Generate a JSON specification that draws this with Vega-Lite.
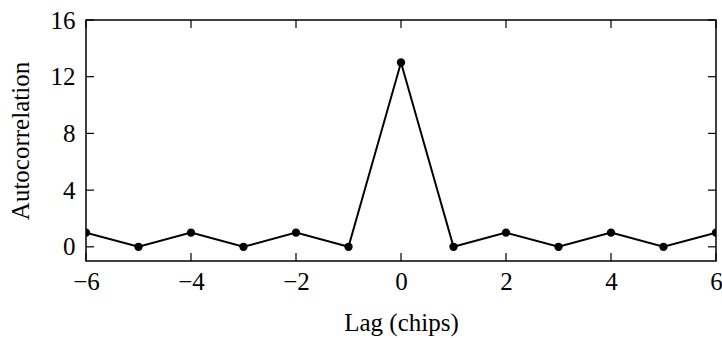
{
  "$schema": "https://vega.github.io/schema/vega-lite/v6.json",
  "width": 630,
  "height": 241,
  "autosize": "none",
  "padding": {"left": 86, "top": 20, "right": 6, "bottom": 77},
  "background": "white",
  "config": {
    "view": {"stroke": "black", "strokeWidth": 1.5},
    "font": "Liberation Serif",
    "axis": {
      "domain": false,
      "ticks": false,
      "grid": false,
      "labelFont": "Liberation Serif",
      "titleFont": "Liberation Serif",
      "labelFontSize": 25,
      "titleFontSize": 25,
      "titleFontWeight": "normal",
      "labelColor": "black",
      "titleColor": "black"
    }
  },
  "datasets": {
    "acf": [
      {"lag": -6, "ac": 1}, {"lag": -5, "ac": 0}, {"lag": -4, "ac": 1},
      {"lag": -3, "ac": 0}, {"lag": -2, "ac": 1}, {"lag": -1, "ac": 0},
      {"lag": 0, "ac": 13}, {"lag": 1, "ac": 0}, {"lag": 2, "ac": 1},
      {"lag": 3, "ac": 0}, {"lag": 4, "ac": 1}, {"lag": 5, "ac": 0},
      {"lag": 6, "ac": 1}
    ],
    "xticks": [{"lag": -6}, {"lag": -4}, {"lag": -2}, {"lag": 0}, {"lag": 2}, {"lag": 4}, {"lag": 6}],
    "yticks": [{"ac": 0}, {"ac": 4}, {"ac": 8}, {"ac": 12}, {"ac": 16}]
  },
  "layer": [
    {
      "data": {"name": "acf"},
      "mark": {"type": "line", "color": "black", "strokeWidth": 2, "clip": true},
      "encoding": {
        "x": {"field": "lag", "type": "quantitative", "scale": {"domain": [-6, 6], "nice": false},
          "axis": {"title": "Lag (chips)", "values": [-6, -4, -2, 0, 2, 4, 6], "format": "d", "labelPadding": 8, "titlePadding": 16, "labelFlush": false}},
        "y": {"field": "ac", "type": "quantitative", "scale": {"domain": [-1, 16], "nice": false, "zero": false},
          "axis": {"title": "Autocorrelation", "values": [0, 4, 8, 12, 16], "format": "d", "labelPadding": 11, "titlePadding": 17, "labelFlush": false}}
      }
    },
    {
      "data": {"name": "acf"},
      "mark": {"type": "point", "filled": true, "color": "black", "opacity": 1, "size": 70, "clip": true},
      "encoding": {
        "x": {"field": "lag", "type": "quantitative"},
        "y": {"field": "ac", "type": "quantitative"}
      }
    },
    {
      "data": {"name": "xticks"},
      "mark": {"type": "tick", "orient": "vertical", "size": 8, "thickness": 1.2, "color": "black", "opacity": 1, "yOffset": -4},
      "encoding": {
        "x": {"field": "lag", "type": "quantitative"},
        "y": {"datum": -1, "type": "quantitative"}
      }
    },
    {
      "data": {"name": "xticks"},
      "mark": {"type": "tick", "orient": "vertical", "size": 8, "thickness": 1.2, "color": "black", "opacity": 1, "yOffset": 4},
      "encoding": {
        "x": {"field": "lag", "type": "quantitative"},
        "y": {"datum": 16, "type": "quantitative"}
      }
    },
    {
      "data": {"name": "yticks"},
      "mark": {"type": "tick", "orient": "horizontal", "size": 8, "thickness": 1.2, "color": "black", "opacity": 1, "xOffset": 4},
      "encoding": {
        "y": {"field": "ac", "type": "quantitative"},
        "x": {"datum": -6, "type": "quantitative"}
      }
    },
    {
      "data": {"name": "yticks"},
      "mark": {"type": "tick", "orient": "horizontal", "size": 8, "thickness": 1.2, "color": "black", "opacity": 1, "xOffset": -4},
      "encoding": {
        "y": {"field": "ac", "type": "quantitative"},
        "x": {"datum": 6, "type": "quantitative"}
      }
    }
  ]
}
